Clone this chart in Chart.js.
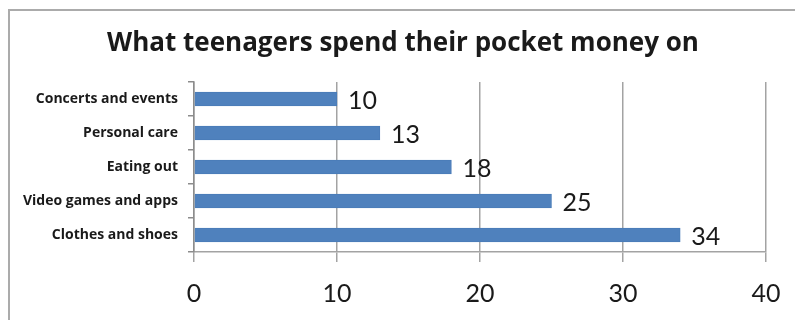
<!DOCTYPE html>
<html>
<head>
<meta charset="utf-8">
<script src="https://cdn.jsdelivr.net/npm/chart.js@4.4.0/dist/chart.umd.min.js"></script>
<style>
  body { margin: 0; background: #fff; overflow: hidden; }
  #wrap { position: relative; width: 795px; height: 320px; }
  #frame { position: absolute; left: 8px; top: 9px; width: 800px; height: 330px; border: 2px solid #ababab; box-sizing: border-box; }
  canvas { position: absolute; left: 0; top: 0; }
</style>
</head>
<body>
<div id="wrap">
  <div id="frame"></div>
  <canvas id="pocket-money-chart" width="795" height="320"></canvas>
</div>
<script>
const chartTitle = 'What teenagers spend their pocket money on';
const categories = ['Concerts and events', 'Personal care', 'Eating out', 'Video games and apps', 'Clothes and shoes'];
const percentages = [10, 13, 18, 25, 34];
const xTicks = [0, 10, 20, 30, 40];

const pocketMoneyChart = document.getElementById('pocket-money-chart');

// title and value labels are drawn by hand
const extraText = {
    id: 'extraText',
    afterDatasetsDraw(chart) {
        const ctx = chart.ctx;
        ctx.save();
        ctx.fillStyle = '#1a1a1a';
        ctx.font = 'bold 26px "Open Sans"';
        ctx.textAlign = 'center';
        ctx.textBaseline = 'middle';
        ctx.fillText(chartTitle, 403, 44);

        ctx.font = '25px Lato';
        ctx.textAlign = 'left';
        chart.getDatasetMeta(0).data.forEach((bar, i) => {
            ctx.fillText(percentages[i], bar.x + 11, bar.y + 2);
        });
        ctx.restore();
    }
};

const spendingChart = new Chart(pocketMoneyChart, {
    type: 'bar',
    data: {
        labels: categories,
        datasets: [{
            data: percentages,
            backgroundColor: '#4f81bd',
            borderColor: '#4a7cb8',
            borderWidth: 1,
            barThickness: 14
        }]
    },
    options: {
        indexAxis: 'y',
        responsive: false,
        animation: false,
        layout: {
            padding: { top: 82, right: 29, left: 0, bottom: 0 }
        },
        plugins: {
            legend: { display: false },
            title: { display: false },
            tooltip: { enabled: false }
        },
        scales: {
            x: {
                min: xTicks[0],
                max: xTicks[xTicks.length - 1],
                afterBuildTicks: scale => {
                    scale.ticks = xTicks.map(v => ({ value: v }));
                },
                afterFit: scale => {
                    scale.height = 68;
                    scale.paddingLeft = 0;
                    scale.paddingRight = 0;
                },
                grid: {
                    color: '#a3a3a3',
                    lineWidth: 1.5,
                    tickLength: 10
                },
                border: { display: true, color: '#a3a3a3', width: 1.5 },
                ticks: {
                    color: '#1a1a1a',
                    font: { family: 'Lato', size: 25 },
                    padding: 17
                }
            },
            y: {
                afterFit: scale => {
                    scale.width = 194;
                    scale.paddingTop = 0;
                    scale.paddingBottom = 0;
                },
                grid: {
                    drawOnChartArea: false,
                    color: '#8c8c8c',
                    lineWidth: 1.5,
                    tickLength: 6
                },
                border: { display: true, color: '#8c8c8c', width: 1.5 },
                ticks: {
                    color: '#1a1a1a',
                    font: { family: 'Open Sans', size: 14, weight: 'bold' },
                    padding: 10
                }
            }
        }
    },
    plugins: [extraText]
});
</script>
</body>
</html>
